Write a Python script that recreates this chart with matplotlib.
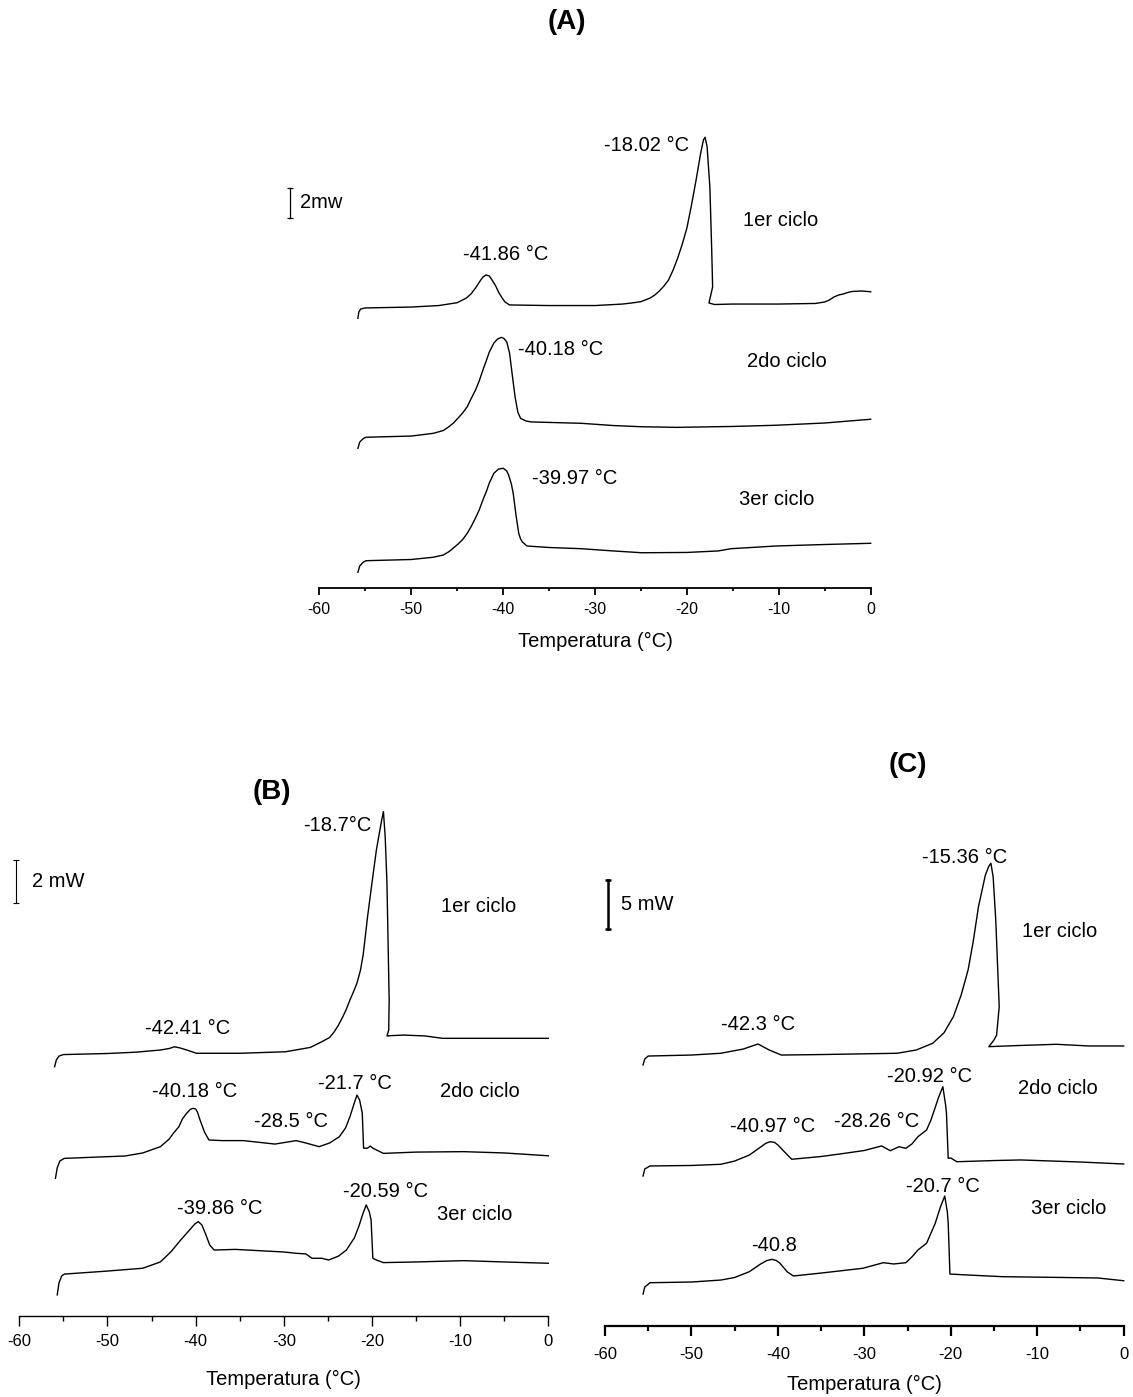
"""
DSC cooling thermograms (1er/2do/3er ciclo) for three samples, panels (A), (B), (C).
Heat flow is given in mW, each cycle stacked with its own offset above the x axis.
"""
import matplotlib
matplotlib.use("Agg")
import matplotlib.pyplot as plt
from matplotlib import font_manager
from matplotlib.ticker import MultipleLocator

W, H = 1133, 1397

# ---------------- panel A ----------------
A1_T = [-55.8, -55.7, -55.5, -55.0, -50, -47, -45, -44, -43.5, -43, -42.5, -42.2, -41.86, -41.5,
        -41.2, -40.8, -40.5, -40.1, -39.8, -39.3, -35, -30, -27, -26, -25, -24, -23.5, -23, -22.5,
        -22, -21.5, -21, -20.5, -20, -19.5, -19, -18.5, -18.2, -18.02, -17.8, -17.5, -17.3, -17.2,
        -17.6, -17.0, -15, -10, -6, -5, -4.5, -4, -3.5, -3, -2.5, -2, -1, 0]
A1_Q = [17.98, 18.40, 18.60, 18.67, 18.73, 18.83, 19.02, 19.33, 19.60, 20.00, 20.47, 20.73, 20.87,
        20.80, 20.53, 20.13, 19.73, 19.33, 19.07, 18.87, 18.83, 18.83, 18.93, 19.00, 19.09, 19.33,
        19.53, 19.80, 20.13, 20.53, 21.20, 22.00, 22.93, 24.00, 25.53, 27.20, 29.00, 29.87, 30.05,
        29.40, 26.73, 22.53, 20.07, 19.00, 18.90, 18.93, 18.93, 18.97, 19.07, 19.20, 19.40, 19.53,
        19.60, 19.70, 19.77, 19.80, 19.75]
A2_T = [-55.8, -55.6, -55.2, -54.9, -50, -47.6, -46.5, -45.9, -45.4, -44.9, -44.4, -43.9, -43.5,
        -43, -42.6, -42.2, -41.8, -41.5, -41.0, -40.6, -40.18, -39.9, -39.6, -39.3, -39.0, -38.7,
        -38.4, -38.1, -37.5, -36.9, -31.5, -28, -24.9, -21.1, -15, -10.3, -5, 0]
A2_Q = [9.31, 9.73, 9.97, 10.05, 10.13, 10.31, 10.50, 10.75, 11.00, 11.33, 11.67, 12.09, 12.60,
        13.20, 13.80, 14.53, 15.20, 15.73, 16.33, 16.60, 16.71, 16.63, 16.40, 15.67, 14.20, 12.75,
        11.73, 11.31, 11.13, 11.07, 10.98, 10.83, 10.75, 10.71, 10.77, 10.85, 11.00, 11.25]
A3_T = [-55.8, -55.6, -55.2, -54.9, -50, -47.6, -46.5, -45.9, -45.4, -44.9, -44.4, -43.9, -43.5,
        -43, -42.6, -42.2, -41.8, -41.5, -41.0, -40.5, -39.97, -39.6, -39.4, -39.1, -38.9, -38.6,
        -38.3, -38.1, -37.9, -37.4, -35, -31.5, -28, -24.9, -20, -16.6, -15.2, -10.3, -5, 0]
A3_Q = [1.05, 1.47, 1.73, 1.82, 1.90, 2.05, 2.20, 2.42, 2.67, 2.93, 3.23, 3.65, 4.07, 4.67, 5.20,
        5.87, 6.47, 7.00, 7.65, 7.93, 7.98, 7.80, 7.53, 6.93, 6.31, 4.87, 3.65, 3.27, 3.07, 2.80,
        2.70, 2.62, 2.47, 2.35, 2.37, 2.47, 2.62, 2.80, 2.90, 2.98]
A_PEAKS = ["-41.86 °C", "-18.02 °C", "-40.18 °C", "-39.97 °C"]

# ---------------- panel B ----------------
B1_T = [-56.0, -55.8, -55.5, -55.0, -50, -46.8, -44, -43, -42.41, -41.8, -41, -39.9, -35, -29.8,
        -27, -25.7, -24.8, -24.3, -23.8, -23.3, -22.9, -22.5, -22.1, -21.7, -21.3, -21, -20.8,
        -20.5, -20.0, -19.5, -19.1, -18.9, -18.7, -18.5, -18.3, -18.05, -18.1, -18.3, -17.5, -16.4,
        -14, -12.0, -7.5, 0]
B1_Q = [11.49, 11.80, 11.98, 12.05, 12.10, 12.16, 12.26, 12.33, 12.41, 12.36, 12.26, 12.11, 12.11,
        12.18, 12.38, 12.64, 12.84, 13.09, 13.41, 13.80, 14.15, 14.57, 14.94, 15.35, 15.95, 16.65,
        17.34, 18.41, 19.97, 21.49, 22.41, 22.87, 23.26, 22.10, 19.97, 14.57, 13.18, 12.91, 12.93,
        12.95, 12.91, 12.80, 12.80, 12.80]
B2_T = [-55.9, -55.7, -55.4, -54.9, -48.0, -46, -44.0, -43, -42.5, -41.9, -41.5, -41, -40.6,
        -40.3, -40.0, -39.8, -39.5, -39, -38.5, -37, -34.6, -31.0, -29.5, -28.6, -27.5, -26.0,
        -24.8, -23.7, -23, -22.5, -22, -21.7, -21.4, -21.1, -20.95, -20.5, -20.2, -19.9, -18.7,
        -15, -9.6, -5, 0]
B2_Q = [6.34, 6.82, 7.14, 7.26, 7.37, 7.51, 7.80, 8.15, 8.43, 8.72, 9.08, 9.35, 9.52, 9.57, 9.54,
        9.40, 9.03, 8.48, 8.11, 8.08, 8.08, 7.92, 8.02, 8.08, 7.97, 7.80, 7.97, 8.26, 8.66, 9.18,
        9.82, 10.18, 9.95, 9.35, 7.73, 7.73, 7.83, 7.73, 7.49, 7.55, 7.57, 7.51, 7.38]
B3_T = [-55.7, -55.5, -55.2, -54.9, -50, -46.0, -44, -42.8, -41.7, -40.7, -40.1, -39.7, -39.3,
        -38.9, -38.4, -37.9, -35.5, -30, -28.6, -27.5, -26.8, -25.7, -24.9, -23.8, -22.9, -22,
        -21.5, -21.0, -20.65, -20.3, -20.1, -19.9, -19.5, -18.7, -15, -9.6, -5, 0]
B3_Q = [0.96, 1.51, 1.83, 1.92, 2.06, 2.19, 2.48, 2.95, 3.49, 3.95, 4.23, 4.34, 4.19, 3.80, 3.26,
        3.03, 3.06, 2.94, 2.88, 2.85, 2.65, 2.65, 2.57, 2.75, 3.03, 3.59, 4.11, 4.74, 5.11, 4.79,
        4.42, 2.65, 2.57, 2.45, 2.48, 2.54, 2.48, 2.42]
B_PEAKS = ["-18.7°C", "-42.41 °C", "-40.18 °C", "-21.7 °C", "-28.5 °C", "-39.86 °C", "-20.59 °C"]

# ---------------- panel C ----------------
C1_T = [-55.6, -55.4, -55.0, -50, -46.6, -44, -42.3, -41, -39.6, -35, -26.2, -24, -22.1, -20.8,
        -19.7, -18.8, -18.0, -17.4, -16.8, -16.0, -15.6, -15.36, -15.1, -14.8, -14.4, -14.7,
        -15.0, -15.6, -12, -7.8, -4, 0]
C1_Q = [26.44, 27.05, 27.35, 27.45, 27.63, 28.06, 28.57, 27.96, 27.45, 27.50, 27.63, 27.96, 28.64,
        29.69, 31.34, 33.54, 36.08, 39.00, 42.49, 45.71, 46.60, 46.90, 45.50, 41.15, 32.35, 29.48,
        28.98, 28.30, 28.42, 28.54, 28.37, 28.37]
C2_T = [-55.6, -55.4, -54.8, -50, -46.6, -45, -43.3, -42, -41.4, -40.9, -40.4, -40, -39, -38.4,
        -35, -32.3, -30, -28.0, -27.0, -26.0, -25.2, -24.5, -23.8, -22.8, -22.3, -21.9, -21.4,
        -20.92, -20.6, -20.5, -20.3, -20.0, -19.3, -15, -11.9, -5, 0]
C2_Q = [15.18, 15.89, 16.20, 16.25, 16.37, 16.70, 17.31, 18.12, 18.50, 18.66, 18.60, 18.33, 17.41,
        16.88, 17.16, 17.48, 17.77, 18.23, 17.75, 18.15, 17.99, 18.43, 19.17, 19.85, 20.86, 21.88,
        23.19, 24.24, 22.38, 21.54, 16.98, 17.01, 16.63, 16.75, 16.81, 16.60, 16.40]
C3_T = [-55.6, -55.4, -54.8, -50, -46.6, -45, -43.3, -42, -41.3, -40.7, -40.2, -39.8, -38.9,
        -38.2, -35, -30.2, -27.8, -26.6, -25.2, -24.5, -23.8, -22.8, -21.8, -21.2, -20.7, -20.4,
        -20.3, -20.1, -18, -14.0, -7, -3, 0]
C3_Q = [3.21, 3.92, 4.36, 4.43, 4.63, 4.89, 5.48, 6.26, 6.60, 6.73, 6.62, 6.36, 5.45, 5.04, 5.34,
        5.82, 6.39, 6.26, 6.39, 6.97, 7.68, 8.36, 10.39, 12.04, 13.15, 11.53, 10.39, 5.24, 5.14,
        4.97, 4.89, 4.84, 4.56]
C_PEAKS = ["-15.36 °C", "-42.3 °C", "-20.92 °C", "-40.97 °C", "-28.26 °C", "-40.8", "-20.7 °C"]

CYCLES = ["1er ciclo", "2do ciclo", "3er ciclo"]
XLABEL = "Temperatura (°C)"

# fonts: panel A is plain Arial-like, B and C use a condensed face when there is one
names = {f.name for f in font_manager.fontManager.ttflist}
SANS = "Liberation Sans"
if "Liberation Sans Narrow" in names:
    NARROW, n_txt, n_tick = "Liberation Sans Narrow", 17.5, 14
else:
    NARROW, n_txt, n_tick = SANS, 14.5, 12


def panel(fig, x_left, x_right, axis_y, top_y, px_per_mw, spine_w, tick_len, font, fs, tfs,
          pad, labelpad):
    """Axes whose x axis runs -60..0 between two pixel columns, y in mW above the axis line."""
    ax = fig.add_axes([x_left / W, 1 - axis_y / H, (x_right - x_left) / W, (axis_y - top_y) / H])
    ax.set_xlim(-60, 0)
    ax.set_ylim(0, (axis_y - top_y) / px_per_mw)
    for s in ("left", "right", "top"):
        ax.spines[s].set_visible(False)
    ax.spines["bottom"].set_linewidth(spine_w)
    ax.patch.set_alpha(0)
    ax.set_yticks([])
    ax.xaxis.set_major_locator(MultipleLocator(10))
    ax.xaxis.set_minor_locator(MultipleLocator(5))
    ax.tick_params(axis="x", which="major", direction="out", length=tick_len, width=spine_w,
                   pad=pad, labelsize=tfs)
    ax.tick_params(axis="x", which="minor", direction="out", length=tick_len * 0.5, width=spine_w)
    ax.set_xticks(range(-60, 1, 10))
    ax.set_xticklabels([str(v) for v in range(-60, 1, 10)], fontfamily=font, fontsize=tfs)
    ax.set_xlabel(XLABEL, fontfamily=font, fontsize=fs, labelpad=labelpad)
    return ax


def curves(ax, series):
    for T, Q in series:
        ax.plot(T, Q, color="black", lw=1.0, clip_on=False, solid_joinstyle="round")


def scale_bar(ax, x, y0, mw, label, font, fs, lw, cap, gap):
    ax.plot([x, x], [y0, y0 + mw], color="black", lw=lw, clip_on=False,
            marker="_", markersize=cap, markeredgewidth=lw)
    ax.text(x + gap, y0 + mw / 2, label, ha="left", va="center", fontfamily=font, fontsize=fs,
            clip_on=False)


def put(ax, x, y, s, font, fs):
    ax.text(x, y, s, ha="center", va="center", fontfamily=font, fontsize=fs, clip_on=False)


fig = plt.figure(figsize=(W / 100, H / 100), dpi=100)
fig.patch.set_facecolor("white")

# (A)
axA = panel(fig, 319.3, 870.7, 588, 100, 15.0, 1.3, 5, SANS, 14.5, 11.5, 5, 11)
curves(axA, [(A1_T, A1_Q), (A2_T, A2_Q), (A3_T, A3_Q)])
scale_bar(axA, -63.15, 24.67, 2, "2mw", SANS, 14.5, 0.9, 5, 1.0)
put(axA, -39.73, 22.2, A_PEAKS[0], SANS, 14.5)
put(axA, -24.4, 29.53, A_PEAKS[1], SANS, 14.5)
put(axA, -33.70, 15.87, A_PEAKS[2], SANS, 14.5)
put(axA, -32.24, 7.33, A_PEAKS[3], SANS, 14.5)
put(axA, -9.78, 24.53, CYCLES[0], SANS, 14.5)
put(axA, -9.16, 15.13, CYCLES[1], SANS, 14.5)
put(axA, -10.20, 5.87, CYCLES[2], SANS, 14.5)

# (B)
axB = panel(fig, 19.3, 548.3, 1315.7, 790, 21.67, 1.0, 7, NARROW, n_txt, n_tick, 6, 15)
curves(axB, [(B1_T, B1_Q), (B2_T, B2_Q), (B3_T, B3_Q)])
scale_bar(axB, -60.37, 19.03, 2, "2 mW", NARROW, n_txt, 0.8, 5, 1.8)
put(axB, -23.92, 22.64, B_PEAKS[0], NARROW, n_txt)
put(axB, -40.93, 13.26, B_PEAKS[1], NARROW, n_txt)
put(axB, -40.12, 10.34, B_PEAKS[2], NARROW, n_txt)
put(axB, -21.89, 10.72, B_PEAKS[3], NARROW, n_txt)
put(axB, -29.20, 8.95, B_PEAKS[4], NARROW, n_txt)
put(axB, -37.29, 4.96, B_PEAKS[5], NARROW, n_txt)
put(axB, -18.46, 5.72, B_PEAKS[6], NARROW, n_txt)
put(axB, -7.93, 18.87, CYCLES[0], NARROW, n_txt)
put(axB, -7.72, 10.34, CYCLES[1], NARROW, n_txt)
put(axB, -8.33, 4.65, CYCLES[2], NARROW, n_txt)

# (C)
axC = panel(fig, 605, 1123.7, 1325.7, 840, 9.86, 1.6, 7, NARROW, n_txt, n_tick, 8, 10)
curves(axC, [(C1_T, C1_Q), (C2_T, C2_Q), (C3_T, C3_Q)])
scale_bar(axC, -59.71, 40.2, 5, "5 mW", NARROW, n_txt, 1.8, 5, 1.6)
put(axC, -18.42, 47.5, C_PEAKS[0], NARROW, n_txt)
put(axC, -42.30, 30.50, C_PEAKS[1], NARROW, n_txt)
put(axC, -22.50, 25.25, C_PEAKS[2], NARROW, n_txt)
put(axC, -40.66, 20.18, C_PEAKS[3], NARROW, n_txt)
put(axC, -28.62, 20.69, C_PEAKS[4], NARROW, n_txt)
put(axC, -40.45, 8.18, C_PEAKS[5], NARROW, n_txt)
put(axC, -20.87, 14.10, C_PEAKS[6], NARROW, n_txt)
put(axC, -7.40, 39.96, CYCLES[0], NARROW, n_txt)
put(axC, -7.60, 24.08, CYCLES[1], NARROW, n_txt)
put(axC, -6.38, 11.91, CYCLES[2], NARROW, n_txt)

# panel letters
for letter, (px, py) in {"(A)": (567, 22), "(B)": (272, 792), "(C)": (908, 765)}.items():
    fig.text(px / W, 1 - py / H, letter, ha="center", va="center", fontfamily=SANS,
             fontsize=20, fontweight="bold")

fig.savefig("out.png", dpi=100, facecolor="white")
